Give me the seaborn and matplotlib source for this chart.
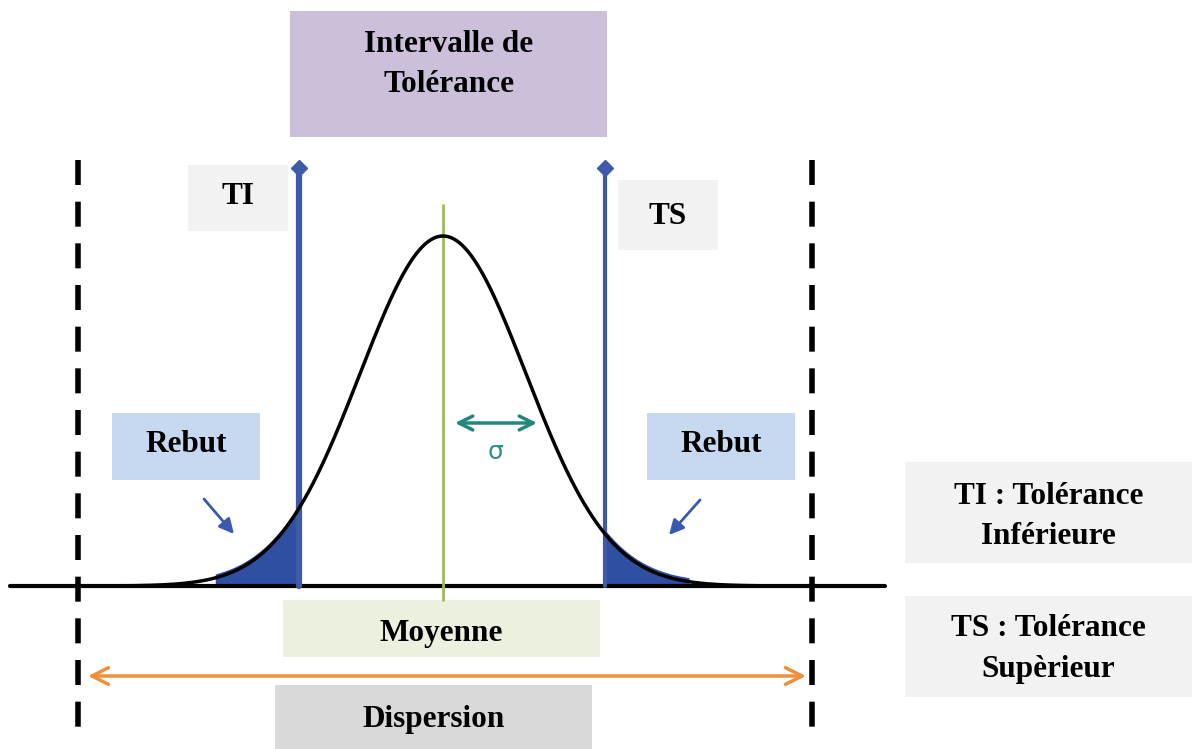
import matplotlib.pyplot as plt
import matplotlib.patches as mpatches
import seaborn as sns
import numpy as np

# Diagram values (pixel-like units of the drawing, y grows downward)
mean_x = 443
sigma = 83
peak_height = 350
baseline_y = 586
ti_x = 299
ts_x = 605
disp_left = 78
disp_right = 812
rebut_left_start = 215
rebut_right_end = 690

box_labels = ["Intervalle de\nTolérance", "TI", "TS", "Rebut", "Rebut",
              "Moyenne", "Dispersion", "TI : Tolérance\nInférieure",
              "TS : Tolérance\nSupèrieur"]
box_colors = ["#cbbfd9", "#f2f2f2", "#f2f2f2", "#c6d9f1", "#c6d9f1",
              "#ebf1de", "#d9d9d9", "#f2f2f2", "#f2f2f2"]
# x0, y0, x1, y1
box_extents = [(290, 11, 607, 137), (188, 165, 288, 231), (618, 180, 718, 250),
               (112, 413, 260, 480), (647, 413, 795, 480), (283, 600, 600, 657),
               (275, 685, 592, 749), (905, 462, 1192, 563), (905, 596, 1192, 697)]
# text centre y for each box
label_y = [64, 196, 217, 445, 445, 634, 719, 517, 649]

sns.set_style("white")
plt.rcParams['font.family'] = ['Liberation Serif', 'DejaVu Serif']

fig = plt.figure(figsize=(11.92, 7.49), dpi=100)
ax = fig.add_axes([0, 0, 1, 1])
ax.set_xlim(0, 1192)
ax.set_ylim(749, 0)
ax.axis('off')

# boxes and labels
for label, color, (x0, y0, x1, y1), ty in zip(box_labels, box_colors, box_extents, label_y):
    ax.add_patch(mpatches.Rectangle((x0, y0), x1 - x0, y1 - y0, facecolor=color,
                                    edgecolor='none', zorder=1))
    ax.text((x0 + x1) / 2, ty, label, ha='center', va='center', fontsize=22.5,
            fontweight='bold', linespacing=1.5, color='black', zorder=5)

# normal curve
xs = np.linspace(20, 880, 600)
ys = baseline_y - peak_height * np.exp(-0.5 * ((xs - mean_x) / sigma) ** 2)

# reject areas
mask_l = (xs >= rebut_left_start) & (xs <= ti_x)
mask_r = (xs >= ts_x) & (xs <= rebut_right_end)
ax.fill_between(xs[mask_l], ys[mask_l] - 4, baseline_y, color='#2f4fa3', zorder=2, lw=0)
ax.fill_between(xs[mask_r], ys[mask_r] - 4, baseline_y, color='#2f4fa3', zorder=2, lw=0)

# baseline
ax.plot([10, 885], [baseline_y, baseline_y], color='black', lw=3, zorder=3)
sns.lineplot(x=xs, y=ys, color='black', lw=2.5, ax=ax, zorder=4)

# mean line
ax.plot([mean_x, mean_x], [205, 600], color='#9bbb59', lw=2, zorder=3)

# tolerance limits
for x, lw in [(ti_x, 4.5), (ts_x, 3)]:
    ax.plot([x, x], [168, baseline_y], color='#3f5aa8', lw=lw, zorder=3)
    ax.plot([x], [168], marker='D', color='#3f5aa8', ms=8, zorder=3)

# dispersion limits
for x in [disp_left, disp_right]:
    ax.plot([x, x], [160, 735], color='black', lw=4, ls=(0, (4.5, 3)), zorder=3)

# dispersion arrow
ax.annotate('', xy=(88, 676), xytext=(806, 676),
            arrowprops=dict(arrowstyle='<->', color='#f0903c', lw=2.5,
                            mutation_scale=30, shrinkA=0, shrinkB=0), zorder=3)

# sigma arrow
ax.annotate('', xy=(455, 423), xytext=(537, 423),
            arrowprops=dict(arrowstyle='<->', color='#23877b', lw=2.5,
                            mutation_scale=25, shrinkA=0, shrinkB=0), zorder=3)
ax.text(496, 452, 'σ', color='#2a9485', fontsize=18, ha='center', va='center',
        family=['DejaVu Sans'])

# pointer arrows to reject areas
ax.annotate('', xy=(234, 534), xytext=(204, 499),
            arrowprops=dict(arrowstyle='-|>', color='#3a5ab0', lw=2,
                            mutation_scale=22, shrinkA=0, shrinkB=0), zorder=3)
ax.annotate('', xy=(669, 535), xytext=(700, 500),
            arrowprops=dict(arrowstyle='-|>', color='#3a5ab0', lw=2,
                            mutation_scale=22, shrinkA=0, shrinkB=0), zorder=3)

plt.savefig('out.png', dpi=100)
plt.close()
